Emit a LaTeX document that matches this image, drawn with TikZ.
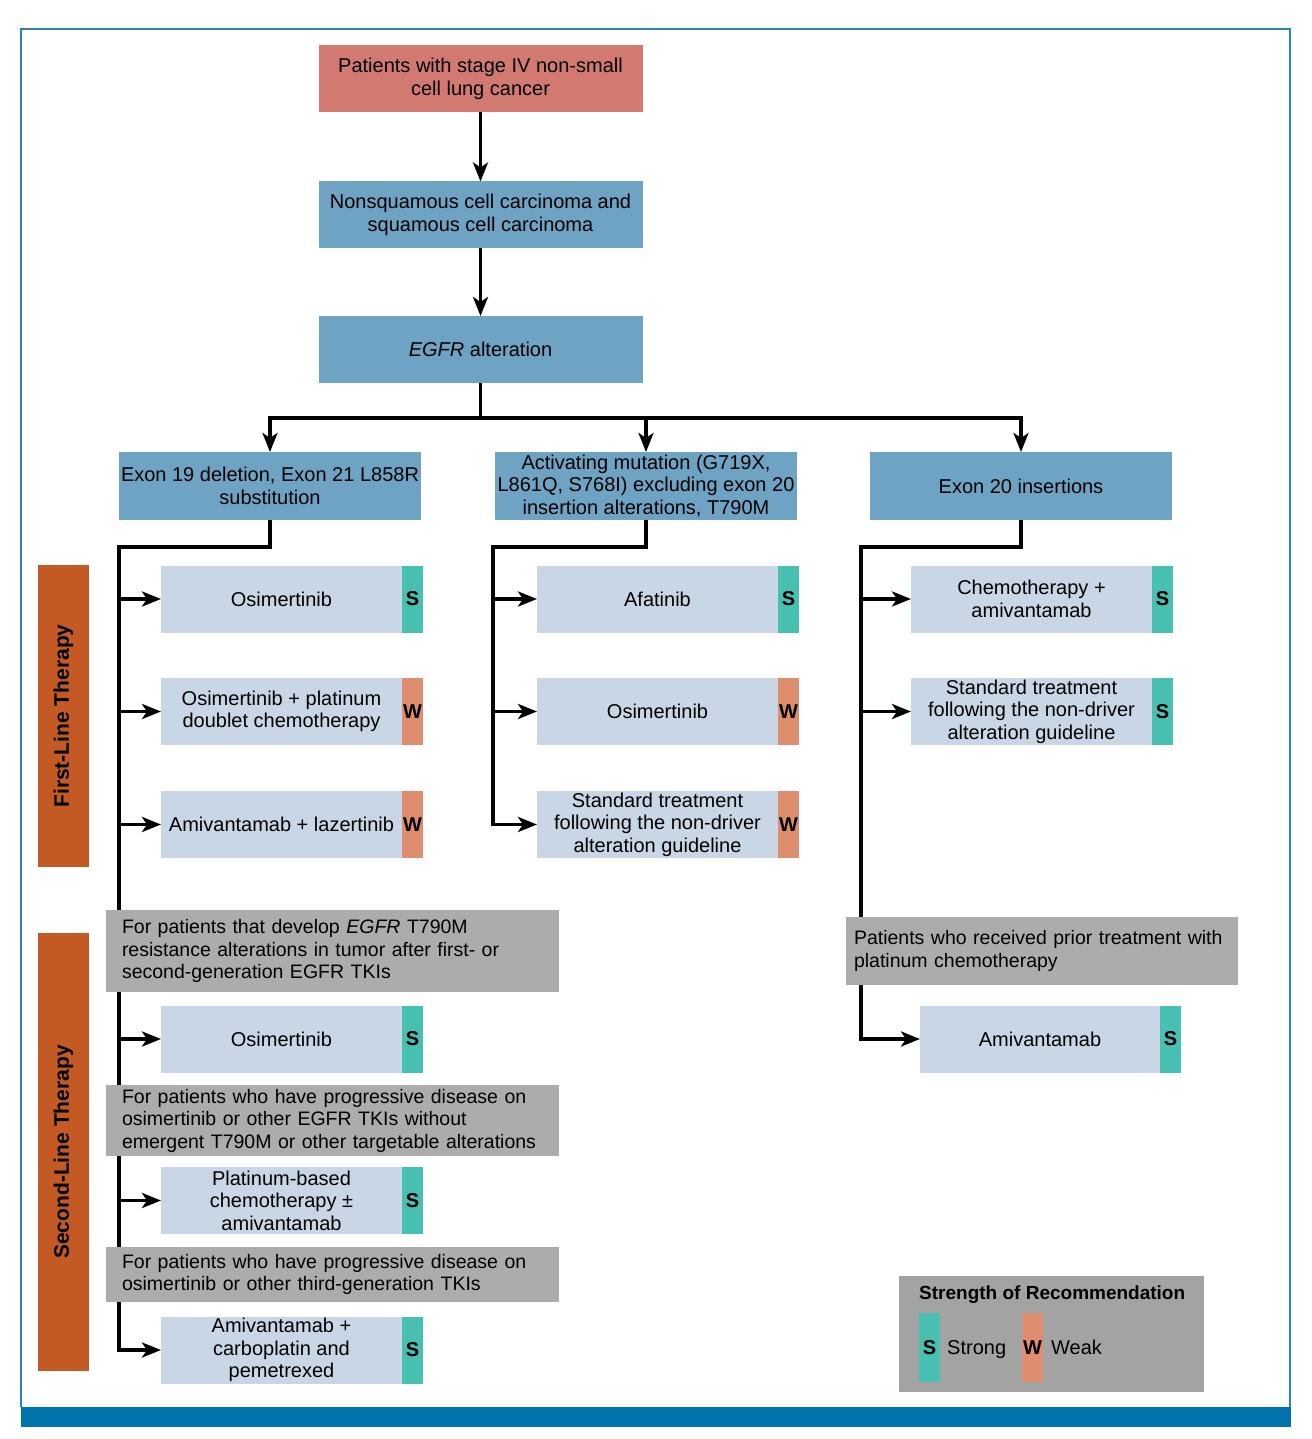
\documentclass[tikz,border=0pt]{standalone}
\usepackage{fontspec}
\setmainfont{Liberation Sans}
\usetikzlibrary{arrows.meta,positioning,backgrounds}

\tikzset{
	box/.style = {rectangle, inner sep=0pt, outer sep=0pt, align=center, minimum height=67pt, font=\fontsize{20}{22.5}\selectfont},
	startbox/.style = {box, fill=startc, minimum width=324pt},
	topbox/.style = {box, fill=catc, minimum width=324pt},
	catbox/.style = {box, fill=catc, minimum width=302pt, minimum height=68pt},
	rxbox/.style = {box, fill=rxc, minimum width=241pt},
	tagS/.style = {box, fill=strongc, minimum width=21pt, font=\fontsize{20}{22.5}\selectfont\bfseries},
	tagW/.style = {tagS, fill=weakc},
	condbox/.style = {box, fill=condc, align=left, text width=421pt, inner xsep=16pt, font=\fontsize{19.5}{22.5}\selectfont},
	phasebar/.style = {box, fill=phasec, rotate=90, minimum height=51pt, font=\fontsize{21}{22.5}\selectfont\bfseries},
	legendbox/.style = {box, fill=legc, minimum width=305pt, minimum height=116pt},
	conn/.style = {draw, line width=3.4pt},
	arr/.style = {conn, -{Stealth[length=19pt,width=15pt,inset=5pt]}}
}
\definecolor{startc}{RGB}{210,122,114}
\definecolor{catc}{RGB}{111,163,195}
\definecolor{rxc}{RGB}{201,214,229}
\definecolor{strongc}{RGB}{71,191,177}
\definecolor{weakc}{RGB}{222,141,110}
\definecolor{condc}{RGB}{172,172,172}
\definecolor{legc}{RGB}{163,163,163}
\definecolor{phasec}{RGB}{195,90,36}
\definecolor{framec}{RGB}{46,130,181}
\definecolor{bandc}{RGB}{1,116,174}

\begin{document}
\begin{tikzpicture}[x=1pt, y=-1pt]
		\useasboundingbox (0,0) rectangle (1311,1439);
		
		%frame
		\draw [framec, line width=2pt] (21,1407) -- (21,29) -- (1290,29) -- (1290,1407);
		\fill [bandc] (21,1407) rectangle (1291,1427);
		
		\node [startbox] (pat) at (480.5,79) {Patients with stage IV non-small\\cell lung cancer};
		\node [topbox, below of = pat, node distance = 136pt] (nsq) {Nonsquamous cell carcinoma and\\squamous cell carcinoma};
		\node [topbox, below of = nsq, node distance = 134.5pt] (egfr) {\textit{EGFR} alteration};
		
		\node [catbox] (exA) at (270,486) {Exon 19 deletion, Exon 21 L858R\\substitution};
		\node [catbox, right of = exA, node distance = 376pt] (exB) {Activating mutation (G719X,\\L861Q, S768I) excluding exon 20\\insertion alterations, T790M};
		\node [catbox, right of = exB, node distance = 375pt] (exC) {Exon 20 insertions};
		
		%first line
		\node [phasebar, minimum width=302pt] (first) at (63.5,716) {First-Line Therapy};
		
		\node [rxbox] (osiA) at (281.5,599) {Osimertinib};
		\node [tagS, right=0pt of osiA] (osiAt) {S};
		\node [rxbox] (osplA) at (281.5,711.5) {Osimertinib + platinum\\doublet chemotherapy};
		\node [tagW, right=0pt of osplA] (osplAt) {W};
		\node [rxbox] (amlzA) at (281.5,824.5) {Amivantamab + lazertinib};
		\node [tagW, right=0pt of amlzA] (amlzAt) {W};
		
		\node [rxbox] (afaB) at (657.5,599) {Afatinib};
		\node [tagS, right=0pt of afaB] (afaBt) {S};
		\node [rxbox] (osiB) at (657.5,711.5) {Osimertinib};
		\node [tagW, right=0pt of osiB] (osiBt) {W};
		\node [rxbox] (stdB) at (657.5,824.5) {Standard treatment\\following the non-driver\\alteration guideline};
		\node [tagW, right=0pt of stdB] (stdBt) {W};
		
		\node [rxbox] (chemC) at (1031.5,599) {Chemotherapy +\\amivantamab};
		\node [tagS, right=0pt of chemC] (chemCt) {S};
		\node [rxbox] (stdC) at (1031.5,711.5) {Standard treatment\\following the non-driver\\alteration guideline};
		\node [tagS, right=0pt of stdC] (stdCt) {S};
		
		%second line
		\node [phasebar, minimum width=438pt] (second) at (63.5,1152) {Second-Line Therapy};
		
		\node [condbox, minimum height=82pt] (gA1) at (332.5,951) {For patients that develop \textit{EGFR} T790M\\resistance alterations in tumor after first- or\\second-generation EGFR TKIs};
		\node [rxbox] (osi2A) at (281.5,1039) {Osimertinib};
		\node [tagS, right=0pt of osi2A] (osi2At) {S};
		\node [condbox, minimum height=71pt] (gA2) at (332.5,1120.5) {For patients who have progressive disease on\\osimertinib or other EGFR TKIs without\\emergent T790M or other targetable alterations};
		\node [rxbox] (platA) at (281.5,1200.5) {Platinum-based\\chemotherapy ±\\amivantamab};
		\node [tagS, right=0pt of platA] (platAt) {S};
		\node [condbox, minimum height=55pt] (gA3) at (332.5,1274.5) {For patients who have progressive disease on\\osimertinib or other third-generation TKIs};
		\node [rxbox] (amcbA) at (281.5,1350) {Amivantamab +\\carboplatin and\\pemetrexed};
		\node [tagS, right=0pt of amcbA] (amcbAt) {S};
		
		\node [condbox, text width=376pt, inner xsep=8pt, minimum height=68pt] (gC) at (1042,951) {Patients who received prior treatment with\\platinum chemotherapy};
		\node [rxbox, minimum width=240pt] (amiC) at (1040,1039) {Amivantamab};
		\node [tagS, right=0pt of amiC] (amiCt) {S};
		
		%legend
		\node [legendbox] (leg) at (1051.5,1334) {};
		\node [anchor=base west, inner sep=0pt, font=\fontsize{19}{22}\selectfont\bfseries] (legtitle) at (919,1299) {Strength of Recommendation};
		\node [tagS, minimum height=69pt] (legS) at (929.5,1347.5) {S};
		\node [anchor=base west, inner sep=0pt, font=\fontsize{20}{22.5}\selectfont] (legSt) at (947,1354) {Strong};
		\node [tagW, minimum height=69pt] (legW) at (1032.5,1347.5) {W};
		\node [anchor=base west, inner sep=0pt, font=\fontsize{20}{22.5}\selectfont] (legWt) at (1051,1354) {Weak};
		
		\coordinate (split) at (480.5,418);
		\coordinate (trunkA) at (119,547);
		\coordinate (trunkB) at (493,547);
		\coordinate (trunkC) at (861,547);
		
		\begin{scope}[on background layer]
		\path [arr] (pat) -- (nsq);
		\path [arr] (nsq) -- (egfr);
		\path [conn] (egfr.south) -- ([yshift=1.7pt]split);
		\path [arr] (split) -| (exA.north);
		\path [arr] (split) -| (exC.north);
		\path [arr] (split -| exB.north) -- (exB.north);
		
		\path [arr] (exA.south) |- (trunkA) |- (amcbA.west);
		\foreach \rx in {osiA, osplA, amlzA, osi2A, platA}
			\path [arr] (trunkA |- \rx.west) -- (\rx.west);
		
		\path [arr] (exB.south) |- (trunkB) |- (stdB.west);
		\foreach \rx in {afaB, osiB}
			\path [arr] (trunkB |- \rx.west) -- (\rx.west);
		
		\path [arr] (exC.south) |- (trunkC) |- (amiC.west);
		\foreach \rx in {chemC, stdC}
			\path [arr] (trunkC |- \rx.west) -- (\rx.west);
		\end{scope}
		
	\end{tikzpicture}
\end{document}
